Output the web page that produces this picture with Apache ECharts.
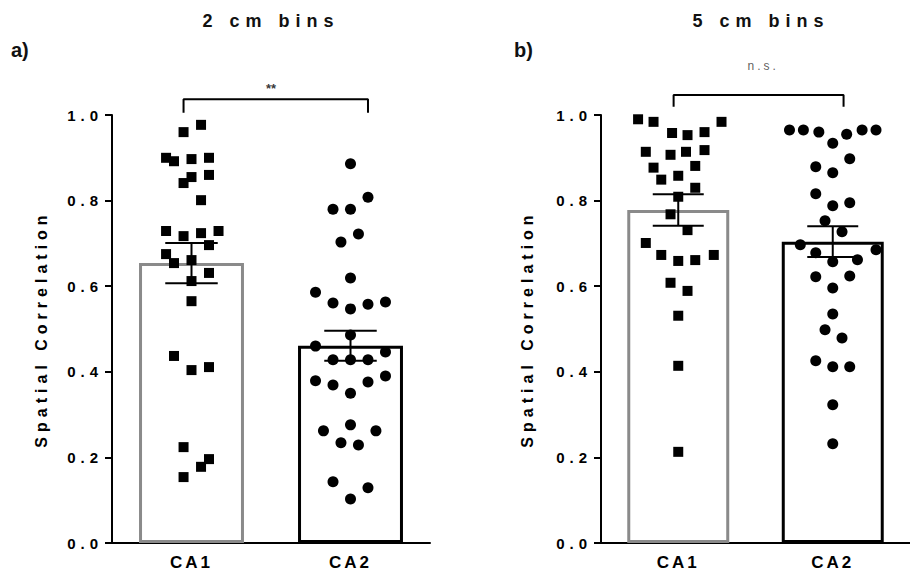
<!DOCTYPE html>
<html>
<head>
<meta charset="utf-8">
<script src="https://cdn.jsdelivr.net/npm/echarts@6/dist/echarts.min.js"></script>
<style>
  html, body { margin: 0; padding: 0; background: #fff; }
  #chart { width: 910px; height: 583px; }
  /* Prism export uses very wide letter spacing; picked per font size (svg renderer) */
  #chart text[style*="18px"] { letter-spacing: 6px; }
  #chart text[style*="17px"] { letter-spacing: 3px; }
  #chart text[style*="16px"] { letter-spacing: 5px; }
  #chart text[style*="15px"] { letter-spacing: 5px; }
  #chart text[style*="12px"] { letter-spacing: 3px; }
</style>
</head>
<body>
<div id="chart"></div>
<script>
const categories = ['CA1', 'CA2'];
const titles = ['2 cm bins', '5 cm bins'];
const panelTags = ['a)', 'b)'];
const sigLabels = ['**', 'n.s.'];

// ---- a) 2 cm bins ----
const ca1_2cm = [0.977, 0.960, 0.900, 0.892, 0.897, 0.900, 0.855, 0.841, 0.860, 0.801,
  0.729, 0.717, 0.724, 0.729, 0.696, 0.675, 0.654, 0.661, 0.631, 0.612,
  0.565, 0.437, 0.404, 0.411, 0.224, 0.196, 0.178, 0.154];
const ca1_2cm_jitter = [0.06, -0.05, -0.16, -0.11, 0, 0.11, 0, -0.05, 0.11, 0.06,
  -0.16, -0.05, 0.06, 0.17, 0.11, -0.16, -0.11, 0, 0.11, 0,
  0, -0.11, 0, 0.11, -0.05, 0.11, 0.06, -0.05];
const ca2_2cm = [0.886, 0.808, 0.780, 0.780, 0.722, 0.703, 0.619, 0.586, 0.561, 0.547,
  0.558, 0.563, 0.486, 0.460, 0.446, 0.428, 0.428, 0.428, 0.379, 0.369,
  0.376, 0.390, 0.350, 0.276, 0.262, 0.262, 0.234, 0.229, 0.143, 0.129, 0.103];
const ca2_2cm_jitter = [0, 0.11, -0.11, 0, 0.05, -0.06, 0, -0.22, -0.11, 0,
  0.11, 0.22, 0, -0.22, 0.22, -0.11, 0, 0.11, -0.22, -0.11,
  0.11, 0.22, 0, 0, -0.17, 0.16, -0.06, 0.05, -0.11, 0.11, 0];
const means_2cm = [0.654, 0.461];
const sems_2cm = [0.047, 0.035];

// ---- b) 5 cm bins ----
const ca1_5cm = [0.990, 0.984, 0.958, 0.953, 0.960, 0.984, 0.914, 0.907, 0.914, 0.918,
  0.877, 0.849, 0.858, 0.881, 0.830, 0.809, 0.768, 0.731, 0.701, 0.673,
  0.659, 0.661, 0.673, 0.608, 0.589, 0.531, 0.414, 0.213];
const ca1_5cm_jitter = [-0.26, -0.16, -0.04, 0.06, 0.17, 0.28, -0.21, -0.05, 0.05, 0.17,
  -0.16, -0.11, 0, 0.11, 0.11, 0, -0.05, 0.06, -0.21, -0.11,
  0, 0.11, 0.23, -0.05, 0.06, 0, 0, 0];
const ca2_5cm = [0.965, 0.965, 0.960, 0.934, 0.955, 0.965, 0.965, 0.898, 0.879, 0.865,
  0.816, 0.788, 0.795, 0.753, 0.727, 0.697, 0.678, 0.657, 0.662, 0.685,
  0.622, 0.624, 0.596, 0.535, 0.498, 0.479, 0.426, 0.412, 0.412, 0.323, 0.232];
const ca2_5cm_jitter = [-0.28, -0.19, -0.09, 0, 0.09, 0.19, 0.28, 0.11, -0.11, 0,
  -0.11, 0, 0.11, -0.05, 0.06, -0.21, -0.11, 0, 0.16, 0.28,
  -0.11, 0.11, 0, 0, -0.05, 0.06, -0.11, 0, 0.11, 0, 0];
const means_5cm = [0.778, 0.704];
const sems_5cm = [0.037, 0.036];

// significance brackets: x ends, y (leg bottom, top), label position
const bracketX = [[-0.05, 1.11], [-0.03, 1.07]];
const bracketY = [[1.005, 1.037], [1.019, 1.047]];
const sigX = [0.5, 0.55];
const sigY = [1.063, 1.114];

const FONT = "'Liberation Sans', Arial, sans-serif";
const chart = echarts.init(document.getElementById('chart'), null, { renderer: 'svg' });

const grids = [], xAxes = [], yAxes = [], series = [];

function addPanel(i, left, ca1, ca1j, ca2, ca2j, means, sems) {
  grids.push({ left: left, top: 115, width: 318, height: 428 });
  // category axis: bars and labels
  xAxes.push({
    type: 'category', gridIndex: i, data: categories,
    axisLine: { onZero: false, lineStyle: { color: '#000', width: 2 } },
    axisTick: { alignWithLabel: true, length: 6, lineStyle: { color: '#000', width: 2 } },
    axisLabel: { color: '#000', fontSize: 17, fontWeight: 'bold', fontFamily: FONT, margin: 11 },
    splitLine: { show: false }
  });
  // hidden value axis for scatter / error bars / bracket (category centres at 0 and 1)
  xAxes.push({ type: 'value', gridIndex: i, min: -0.5, max: 1.5, show: false });
  yAxes.push({
    type: 'value', gridIndex: i, min: 0, max: 1, interval: 0.2,
    name: 'Spatial Correlation', nameLocation: 'middle', nameGap: i === 0 ? 63 : 66,
    nameTextStyle: { color: '#000', fontSize: 16, fontWeight: 'bold', fontFamily: FONT },
    axisLine: { show: true, onZero: false, lineStyle: { color: '#000', width: 2 } },
    axisTick: { show: true, length: 7, lineStyle: { color: '#000', width: 2 } },
    axisLabel: { color: '#000', fontSize: 15, fontWeight: 'bold', fontFamily: FONT, margin: 9,
      formatter: v => v.toFixed(1) },
    splitLine: { show: false }
  });
  const cx = 2 * i, vx = 2 * i + 1;

  series.push({
    type: 'bar', xAxisIndex: cx, yAxisIndex: i, barWidth: '66%', silent: true,
    data: means.map((m, k) => ({
      value: m,
      itemStyle: { color: '#fff', borderColor: k === 0 ? '#8a8a8a' : '#000', borderWidth: 3 }
    })),
    z: 1
  });
  series.push({
    type: 'scatter', xAxisIndex: vx, yAxisIndex: i, symbol: 'rect', symbolSize: 10,
    itemStyle: { color: '#000', opacity: 1 }, silent: true, z: 3,
    data: ca1.map((v, k) => [0 + ca1j[k], v])
  });
  series.push({
    type: 'scatter', xAxisIndex: vx, yAxisIndex: i, symbol: 'circle', symbolSize: 11,
    itemStyle: { color: '#000', opacity: 1 }, silent: true, z: 3,
    data: ca2.map((v, k) => [1 + ca2j[k], v])
  });
  series.push({
    type: 'custom', xAxisIndex: vx, yAxisIndex: i, silent: true, z: 4,
    data: means.map((m, k) => [k, m, sems[k]]),
    renderItem: (params, api) => {
      const x = api.value(0), m = api.value(1), s = api.value(2);
      const top = api.coord([x, m + s]);
      const bot = api.coord([x, m - s]);
      const half = api.size([0.165, 0])[0];
      const st = { stroke: '#000', lineWidth: 2 };
      return {
        type: 'group', children: [
          { type: 'line', shape: { x1: top[0], y1: top[1], x2: bot[0], y2: bot[1] }, style: st },
          { type: 'line', shape: { x1: top[0] - half, y1: top[1], x2: top[0] + half, y2: top[1] }, style: st },
          { type: 'line', shape: { x1: bot[0] - half, y1: bot[1], x2: bot[0] + half, y2: bot[1] }, style: st }
        ]
      };
    }
  });
  // significance bracket
  const bx = bracketX[i], by = bracketY[i];
  series.push({
    type: 'line', xAxisIndex: vx, yAxisIndex: i, clip: false, silent: true,
    symbol: 'none', lineStyle: { color: '#000', width: 2 },
    data: [[bx[0], by[0]], [bx[0], by[1]], [bx[1], by[1]], [bx[1], by[0]]]
  });
  series.push({
    type: 'scatter', xAxisIndex: vx, yAxisIndex: i, clip: false, silent: true, symbolSize: 0,
    data: [[sigX[i], sigY[i]]],
    label: {
      show: true, position: 'inside', formatter: sigLabels[i],
      color: i === 0 ? '#000' : '#333', fontSize: i === 0 ? 13 : 12,
      fontWeight: i === 0 ? 'bold' : 'normal', fontFamily: FONT
    }
  });
}

addPanel(0, 112, ca1_2cm, ca1_2cm_jitter, ca2_2cm, ca2_2cm_jitter, means_2cm, sems_2cm);
addPanel(1, 601, ca1_5cm, ca1_5cm_jitter, ca2_5cm, ca2_5cm_jitter, means_5cm, sems_5cm);

const titleX = [271, 761];
const tagX = [11, 514];
const graphics = [];
titles.forEach((t, i) => {
  graphics.push({ type: 'text', x: titleX[i], y: 21, silent: true,
    style: { text: t, textAlign: 'center', textVerticalAlign: 'middle', fill: '#111',
      fontSize: 18, fontWeight: 'bold', fontFamily: FONT } });
  graphics.push({ type: 'text', x: tagX[i], y: 50, silent: true,
    style: { text: panelTags[i], textAlign: 'left', textVerticalAlign: 'middle', fill: '#111',
      fontSize: 20, fontWeight: 'bold', fontFamily: FONT } });
});

chart.setOption({
  backgroundColor: '#fff',
  animation: false,
  grid: grids,
  xAxis: xAxes,
  yAxis: yAxes,
  series: series,
  graphic: graphics
});
</script>
</body>
</html>
